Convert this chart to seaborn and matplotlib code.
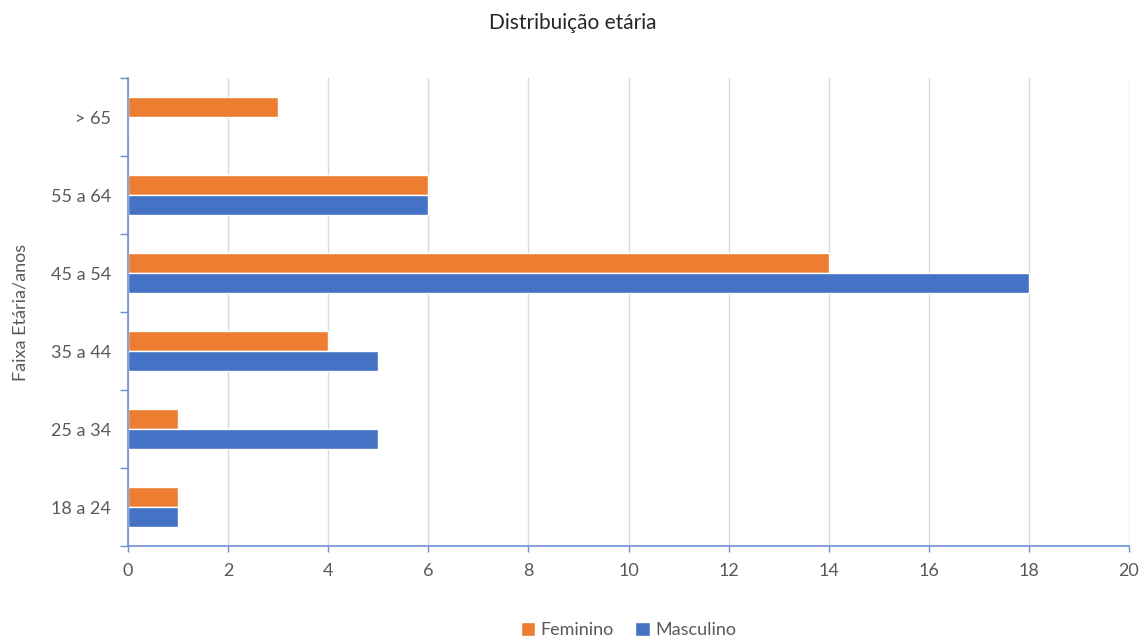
import pandas as pd
import numpy as np
import matplotlib
matplotlib.use('Agg')
import matplotlib.pyplot as plt
import seaborn as sns

faixas = ['> 65', '55 a 64', '45 a 54', '35 a 44', '25 a 34', '18 a 24']
feminino = [3, 6, 14, 4, 1, 1]
masculino = [0, 6, 18, 5, 5, 1]

df = pd.DataFrame({
    'faixa': faixas * 2,
    'valor': feminino + masculino,
    'sexo': ['Feminino'] * len(faixas) + ['Masculino'] * len(faixas),
})

sns.set_style('white')
plt.rcParams['font.family'] = ['Lato', 'DejaVu Sans']
grey = '#595959'
axis_col = '#6F8FD3'

fig = plt.figure(figsize=(11.45, 6.44), dpi=100)
ax = fig.add_axes([128 / 1145, 1 - 546 / 644, 1001 / 1145, 468 / 644])

sns.barplot(data=df, y='faixa', x='valor', hue='sexo', order=faixas,
            hue_order=['Feminino', 'Masculino'],
            palette={'Feminino': '#ED7D31', 'Masculino': '#4472C4'},
            orient='h', width=0.52, saturation=1, ax=ax)

ax.set_xlim(0, 20)
ax.set_ylim(len(faixas) - 0.5, -0.5)
ax.set_xticks(np.arange(0, 21, 2))
ax.grid(axis='x', color='#D9D9D9', linewidth=1)
ax.set_axisbelow(True)

# ticks at category boundaries, labels at centers
ax.set_yticks(np.arange(-0.5, len(faixas), 1))
ax.set_yticklabels([])
ax.set_yticks(np.arange(len(faixas)), minor=True)
ax.set_yticklabels(faixas, minor=True)
ax.tick_params(axis='y', which='major', length=6, color=axis_col, width=1, left=True)
ax.tick_params(axis='y', which='minor', length=0, pad=12, labelsize=13, labelcolor=grey)
ax.tick_params(axis='x', length=4, color=axis_col, width=1, bottom=True,
               labelsize=13, labelcolor=grey, pad=8)

for s in ['top', 'right']:
    ax.spines[s].set_visible(False)
for s in ['left', 'bottom']:
    ax.spines[s].set_color(axis_col)
    ax.spines[s].set_linewidth(1.2)

ax.set_xlabel('')
ax.set_ylabel('Faixa Etária/anos', fontsize=13, color=grey, labelpad=16)
fig.suptitle('Distribuição etária', fontsize=15, color='#262626', y=0.98)

ax.legend(loc='center', bbox_to_anchor=(0.5, -0.18), ncol=2, frameon=False,
          fontsize=13, labelcolor=grey, handlelength=0.8, handleheight=0.8,
          handletextpad=0.3, columnspacing=1.2)

fig.savefig('out.png', dpi=100)
